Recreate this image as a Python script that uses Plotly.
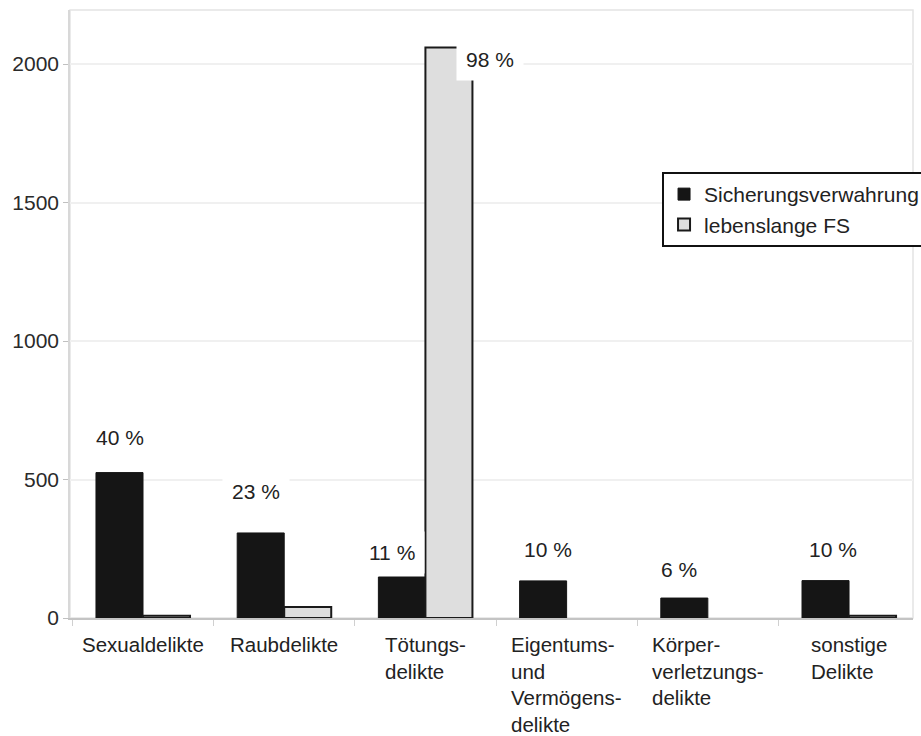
import plotly.graph_objects as go

# Offence categories (x axis) and their multi-line axis captions
categories = [
    "Sexualdelikte",
    "Raubdelikte",
    "Tötungsdelikte",
    "Eigentums- und Vermögensdelikte",
    "Körperverletzungsdelikte",
    "sonstige Delikte",
]
category_captions = [
    "Sexualdelikte",
    "Raubdelikte",
    "Tötungs-<br>delikte",
    "Eigentums-<br>und<br>Vermögens-<br>delikte",
    "Körper-<br>verletzungs-<br>delikte",
    "sonstige<br>Delikte",
]

# Number of detainees per offence group
sicherungsverwahrung = [525, 307, 148, 134, 72, 135]
lebenslange_fs = [8, 40, 2060, 0, 0, 8]

# Share labels
sv_share = ["40 %", "23 %", "11 %", "10 %", "6 %", "10 %"]
lfs_share_toetung = "98 %"

y_ticks = [0, 500, 1000, 1500, 2000]

# Layout tweaks for the share labels (pixel offsets)
share_lift = [35, 41, 25, 31, 29, 31]
share_dx = [0, -5, -10, 5, -5, 7]

FONT = "Liberation Sans, Arial, sans-serif"
TXT = "#222222"
BAR_W = 0.333

fig = go.Figure()
fig.add_trace(go.Bar(
    name="Sicherungsverwahrung",
    x=categories, y=sicherungsverwahrung,
    width=BAR_W, offset=-BAR_W,
    marker=dict(color="#151515", line=dict(color="#151515", width=1)),
))
fig.add_trace(go.Bar(
    name="lebenslange FS",
    x=categories, y=[v if v > 0 else None for v in lebenslange_fs],
    width=BAR_W, offset=0,
    marker=dict(color="#dedede", line=dict(color="#1a1a1a", width=2)),
))

annotations = []
# percentage labels above the Sicherungsverwahrung bars
for i, cat in enumerate(categories):
    annotations.append(dict(
        x=cat, y=sicherungsverwahrung[i], xref="x", yref="y",
        text=sv_share[i], showarrow=False,
        xshift=-23.5 + share_dx[i], yshift=share_lift[i],
        yanchor="middle", xanchor="center",
        bgcolor="white", borderpad=9,
        font=dict(family=FONT, size=21, color=TXT),
    ))
# share label for life sentences (Tötungsdelikte)
annotations.append(dict(
    x=categories[2], y=lebenslange_fs[2], xref="x", yref="y",
    text=lfs_share_toetung, showarrow=False,
    xshift=65, yshift=-12, yanchor="middle", xanchor="center",
    bgcolor="white", borderpad=9,
    font=dict(family=FONT, size=21, color=TXT),
))
# category captions below the axis, lines left-aligned
for cat, cap in zip(categories, category_captions):
    annotations.append(dict(
        x=cat, y=0, xref="x", yref="y",
        text=cap, showarrow=False, align="left",
        xanchor="center", yanchor="top", yshift=-13,
        font=dict(family=FONT, size=20.5, color=TXT),
    ))

fig.update_layout(
    width=921, height=736,
    margin=dict(l=70, r=8, t=10, b=118, autoexpand=False),
    paper_bgcolor="white", plot_bgcolor="white",
    font=dict(family=FONT, size=21, color=TXT),
    showlegend=True,
    legend=dict(
        x=0.7023, y=0.7336, xanchor="left", yanchor="top",
        bgcolor="white", bordercolor="#111111", borderwidth=2,
        font=dict(family=FONT, size=21, color=TXT),
        tracegroupgap=0,
    ),
    annotations=annotations,
    shapes=[dict(
        type="rect", xref="paper", yref="paper", x0=0, x1=1, y0=0, y1=1,
        line=dict(color="#e4e4e4", width=1.5), layer="below",
    )],
)
fig.update_xaxes(
    type="category", range=[-0.517, 5.453],
    showticklabels=False, ticks="outside", tickson="boundaries",
    ticklen=6, tickcolor="#d0d0d0",
    showline=True, linecolor="#c4c4c4", linewidth=1.5,
    showgrid=False, zeroline=False,
)
fig.update_yaxes(
    range=[0, 2195], tickvals=y_ticks,
    ticks="outside", ticklen=5, tickcolor="#c0c0c0",
    tickfont=dict(family=FONT, size=21, color="#2a2a2a"),
    showline=True, linecolor="#d8d8d8", linewidth=1.5,
    showgrid=True, gridcolor="#f0f0f0", gridwidth=1.5,
    zeroline=False,
)

fig.write_html("out.html")
